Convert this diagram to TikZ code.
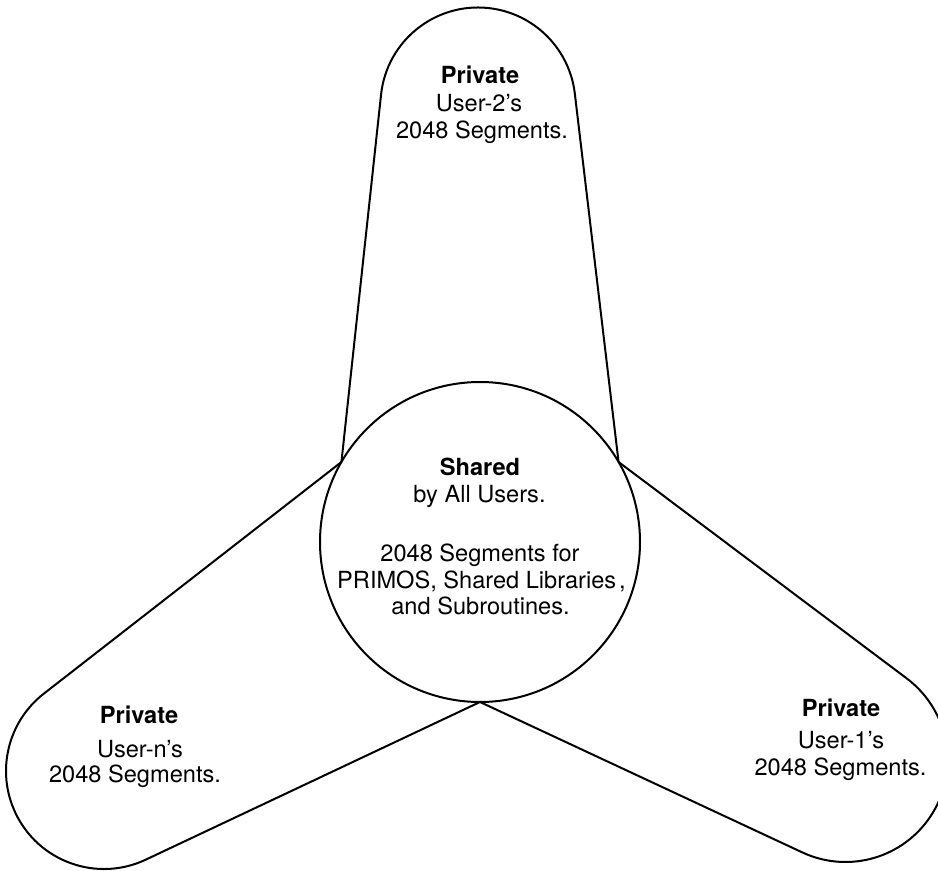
\documentclass[tikz,border=0pt]{standalone}
\usepackage{fontspec}
\setmainfont{TeX Gyre Heros}
\begin{document}
\begin{tikzpicture}[x=0.5pt,y=-0.5pt,
  outline/.style={draw=black,line width=1pt,line join=round},
  txt/.style={anchor=base,inner sep=0pt,outer sep=0pt,font=\fontsize{11.8}{13.4}\selectfont},
  head/.style={txt,font=\fontsize{11.8}{13.4}\selectfont\bfseries}]
% page
\fill[white] (0,0) rectangle (938,871);
\clip (0,0) rectangle (938,871);

% shared region in the middle
\node[outline,circle,minimum size=160pt,inner sep=0pt,outer sep=0pt] (shared) at (480,542) {};

% points where each private lobe leaves its end cap
\coordinate (u2left)  at (381.06,94.55);
\coordinate (unupper) at (43.82,693.66);
\coordinate (unlower) at (145.81,859.64);
\coordinate (u1upper) at (906.75,678.44);
\coordinate (u1lower) at (802.36,852.43);

% user-2 lobe (top)
\draw[outline] (shared.150) -- (u2left)
  arc[start angle=173.85,end angle=6.77,radius=48.75pt] -- (shared.30);
% user-n lobe (lower left)
\draw[outline] (shared.270) -- (unlower)
  arc[start angle=-64.75,end angle=-232.11,radius=49pt] -- (shared.150);
% user-1 lobe (lower right)
\draw[outline] (shared.30) -- (u1upper)
  arc[start angle=53.09,end angle=-115.02,radius=51pt] -- (shared.270);

% labels: top lobe
\node[head] (p2)  at (480,83.3)  {Private};
\node[txt]  (u2)  at (479,111.7) {User-2’s};
\node[txt]  (s2)  at (482,138.3) {2048 Segments.};

% labels: centre
\node[head] (sh)  at (480,476)   {Shared};
\node[txt]  (all) at (479.5,502.7) {by All Users.};
\node[txt]  (c1)  at (480,561.7) {2048 Segments for};
\node[txt]  (c2)  at (481.5,588.3) {PRIMOS, Shared Libraries\kern1.5pt,};
\node[txt]  (c3)  at (480.5,615) {and Subroutines.};

% labels: lower left lobe
\node[head] (pn)  at (139,724)   {Private};
\node[txt]  (un)  at (140,757)   {User-n’s};
\node[txt]  (sn)  at (135,783)   {2048 Segments.};

% labels: lower right lobe
\node[head] (p1)  at (841,716.7) {Private};
\node[txt]  (u1)  at (841,748.3) {User-1’s};
\node[txt]  (s1)  at (840.5,776) {2048 Segments.};
\end{tikzpicture}
\end{document}
